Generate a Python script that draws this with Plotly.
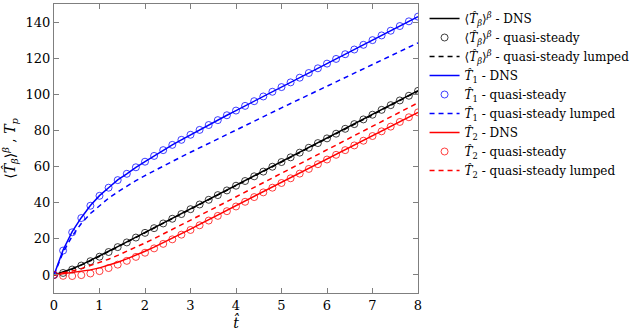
import plotly.graph_objects as go

t = [round(0.2 * i, 1) for i in range(41)]

t1_dns = [0, 13.8, 24.0, 31.7, 38.4, 43.9, 48.3, 52.6, 55.9, 59.6, 62.7, 65.9, 69.2, 72.0, 74.8,
          77.6, 80.3, 83.0, 85.7, 88.4, 91.0, 93.6, 96.2, 98.8, 101.4, 104.0, 106.6, 109.2, 111.8,
          114.4, 117.0, 119.6, 122.2, 124.8, 127.4, 130.0, 132.6, 135.2, 137.8, 140.4, 143.0]
t1_qs = [0, 13.5, 23.6, 31.5, 38.3, 43.8, 48.3, 52.5, 56.0, 59.6, 62.7, 65.9, 69.1, 72.0, 74.8,
         77.6, 80.3, 83.0, 85.7, 88.4, 91.0, 93.6, 96.2, 98.8, 101.4, 104.0, 106.6, 109.2, 111.8,
         114.4, 117.0, 119.6, 122.2, 124.8, 127.4, 130.0, 132.6, 135.2, 137.8, 140.4, 143.0]
t1_lump = [0, 12.5, 21.5, 28.5, 34.0, 38.5, 42.5, 46.0, 49.2, 52.2, 55.0, 57.7, 60.3, 62.9, 65.4,
           67.9, 70.4, 72.9, 75.4, 77.9, 80.4, 82.9, 85.3, 87.7, 90.1, 92.5, 94.9, 97.3, 99.7,
           102.1, 104.5, 106.9, 109.3, 111.7, 114.1, 116.5, 118.9, 121.3, 123.7, 126.1, 128.5]

tb_dns = [0, 1.5, 3.4, 5.6, 8.0, 10.5, 13.1, 15.7, 18.3, 20.9, 23.5, 26.1, 28.7, 31.3, 33.9,
          36.5, 39.1, 41.7, 44.3, 46.9, 49.5, 52.1, 54.7, 57.3, 60.0, 62.6, 65.2, 67.8, 70.5,
          73.1, 75.7, 78.3, 81.0, 83.6, 86.2, 88.8, 91.5, 94.1, 96.7, 99.3, 102.0]
tb_qs = [0, 1.1, 3.0, 5.2, 7.6, 10.1, 12.7, 15.4, 18.0, 20.7, 23.3, 25.9, 28.5, 31.1, 33.7,
         36.4, 39.0, 41.6, 44.2, 46.8, 49.4, 52.0, 54.6, 57.2, 59.9, 62.5, 65.1, 67.7, 70.4,
         73.0, 75.6, 78.2, 80.9, 83.5, 86.1, 88.7, 91.4, 94.0, 96.6, 99.2, 101.9]
tb_lump = [0, 1.3, 3.2, 5.4, 7.8, 10.3, 12.9, 15.5, 18.1, 20.7, 23.3, 25.9, 28.5, 31.1, 33.7,
           36.3, 38.9, 41.5, 44.1, 46.7, 49.3, 51.9, 54.5, 57.1, 59.8, 62.4, 65.0, 67.6, 70.3,
           72.9, 75.5, 78.1, 80.8, 83.4, 86.0, 88.6, 91.3, 93.9, 96.5, 99.1, 101.8]

t2_dns = [0, 0.6, 1.2, 1.9, 2.8, 3.9, 5.3, 7.0, 8.9, 10.9, 13.1, 15.4, 17.8, 20.3, 22.8,
          25.4, 28.0, 30.6, 33.2, 35.8, 38.4, 41.0, 43.6, 46.1, 48.7, 51.3, 53.9, 56.5, 59.0,
          61.6, 64.2, 66.8, 69.4, 71.9, 74.5, 77.1, 79.7, 82.3, 84.8, 87.4, 90.0]
t2_qs = [0, -0.5, -0.6, -0.1, 0.8, 2.1, 3.8, 5.7, 7.8, 10.0, 12.3, 14.7, 17.2, 19.7, 22.3,
         24.9, 27.5, 30.1, 32.7, 35.3, 37.9, 40.5, 43.1, 45.7, 48.3, 50.9, 53.5, 56.1, 58.7,
         61.3, 63.9, 66.5, 69.1, 71.7, 74.3, 76.9, 79.5, 82.1, 84.7, 87.3, 90.0]
t2_lump = [0, 1.0, 2.2, 3.5, 5.1, 6.8, 8.7, 10.8, 13.0, 15.3, 17.7, 20.1, 22.6, 25.1, 27.6,
           30.2, 32.8, 35.4, 38.0, 40.6, 43.3, 45.9, 48.5, 51.1, 53.7, 56.3, 58.9, 61.5, 64.1,
           66.7, 69.3, 71.9, 74.5, 77.1, 79.7, 82.3, 84.9, 87.5, 90.1, 92.7, 95.3]

x_ticks = [0, 1, 2, 3, 4, 5, 6, 7, 8]
y_ticks = [0, 20, 40, 60, 80, 100, 120, 140]

TB = "⟨<i>T̂</i><sub><i>β</i></sub>⟩<sup><i>β</i></sup>"
T1 = "<i>T̂</i><sub>1</sub>"
T2 = "<i>T̂</i><sub>2</sub>"

BLUE = "rgb(0,0,255)"
RED = "rgb(255,0,0)"
BLACK = "rgb(0,0,0)"
DASH = "5px,4px"
SERIF = "DejaVu Serif"

fig = go.Figure()

def add_group(name, color, dns, qs, lump):
    fig.add_trace(go.Scatter(x=t, y=dns, mode="lines", name=name + " - DNS",
                             line=dict(color=color, width=1.5)))
    fig.add_trace(go.Scatter(x=t, y=qs, mode="markers", name=name + " - quasi-steady",
                             marker=dict(symbol="circle-open", size=7, color=color,
                                         opacity=0.75, line=dict(width=1, color=color))))
    fig.add_trace(go.Scatter(x=t, y=lump, mode="lines", name=name + " - quasi-steady lumped",
                             line=dict(color=color, width=1.5, dash=DASH)))

add_group(TB, BLACK, tb_dns, tb_qs, tb_lump)
add_group(T1, BLUE, t1_dns, t1_qs, t1_lump)
add_group(T2, RED, t2_dns, t2_qs, t2_lump)

axis_common = dict(showline=True, linecolor="#7f7f7f", linewidth=1, mirror="ticks",
                   ticks="inside", ticklen=5, tickcolor="#7f7f7f", tickwidth=1,
                   showgrid=False, zeroline=False,
                   tickfont=dict(family=SERIF, size=13, color="black"))

fig.update_layout(
    width=635, height=334,
    margin=dict(l=54, r=217, t=4, b=41, autoexpand=False),
    paper_bgcolor="white", plot_bgcolor="white",
    font=dict(family=SERIF, size=13, color="black"),
    xaxis=dict(range=[0, 8], tickvals=x_ticks, **axis_common,
               title=dict(text="<i>t̂</i>", standoff=0,
                          font=dict(family=SERIF, size=14))),
    yaxis=dict(range=[-10, 150], tickvals=y_ticks, **axis_common,
               title=dict(text=TB + " , <i>T</i><sub><i>p</i></sub>", standoff=8,
                          font=dict(family=SERIF, size=14))),
    legend=dict(x=1.018, xanchor="left", y=1.0, yanchor="top",
                font=dict(family=SERIF, size=12),
                bgcolor="rgba(255,255,255,0)", borderwidth=0,
                tracegroupgap=0, itemwidth=30),
    showlegend=True,
)

fig.write_html("out.html")
